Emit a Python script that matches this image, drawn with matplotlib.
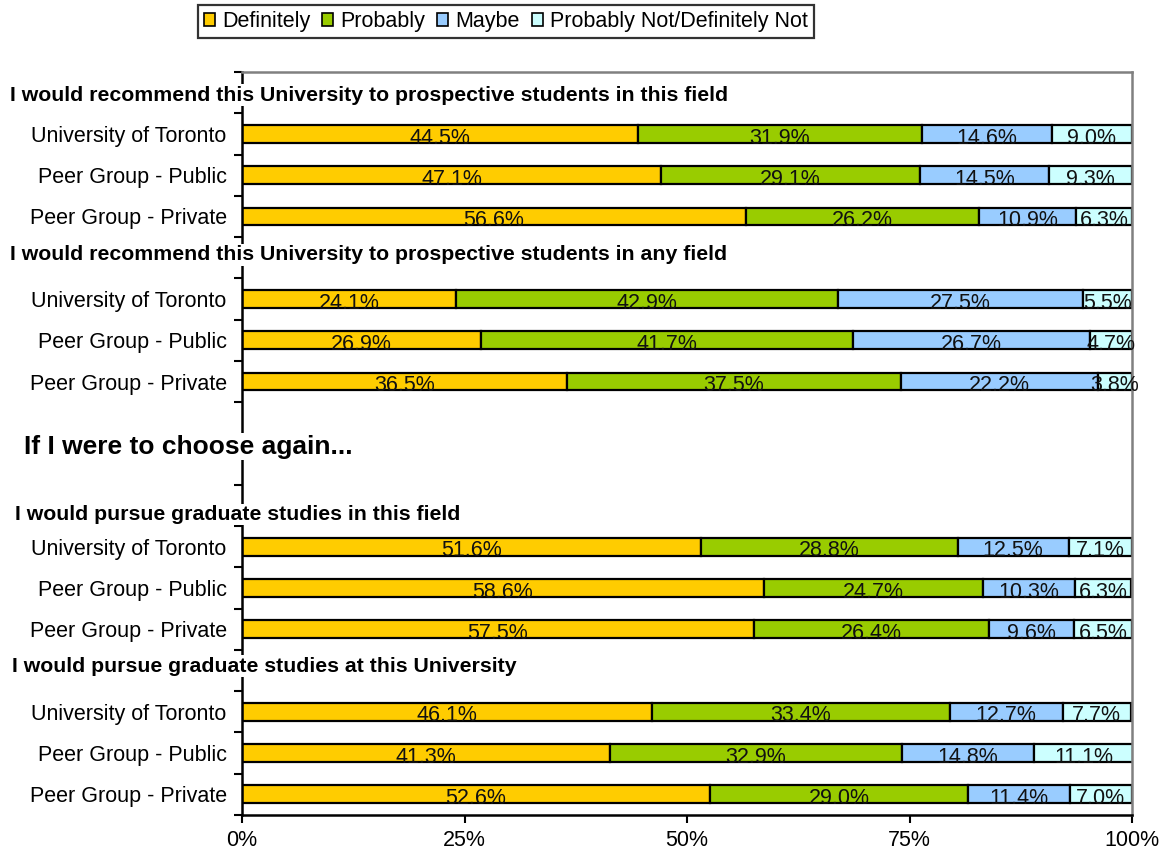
import matplotlib
matplotlib.use("Agg")
import matplotlib.pyplot as plt
from matplotlib.patches import Patch
from matplotlib.transforms import blended_transform_factory

plt.rcParams['font.family'] = ['Liberation Sans', 'DejaVu Sans']

series = ["Definitely", "Probably", "Maybe", "Probably Not/Definitely Not"]
colors = ["#FFCC00", "#99CC00", "#99CCFF", "#CCFFFF"]

groups = ["University of Toronto", "Peer Group - Public", "Peer Group - Private"]

sec1 = [[44.5, 31.9, 14.6, 9.0], [47.1, 29.1, 14.5, 9.3], [56.6, 26.2, 10.9, 6.3]]
sec2 = [[24.1, 42.9, 27.5, 5.5], [26.9, 41.7, 26.7, 4.7], [36.5, 37.5, 22.2, 3.8]]
sec3 = [[51.6, 28.8, 12.5, 7.1], [58.6, 24.7, 10.3, 6.3], [57.5, 26.4, 9.6, 6.5]]
sec4 = [[46.1, 33.4, 12.7, 7.7], [41.3, 32.9, 14.8, 11.1], [52.6, 29.0, 11.4, 7.0]]

headers = [
    "I would recommend this University to prospective students in this field",
    "I would recommend this University to prospective students in any field",
    "If I were to choose again...",
    "I would pursue graduate studies in this field",
    "I would pursue graduate studies at this University",
]
xticks = [0, 25, 50, 75, 100]
xticklabels = ["0%", "25%", "50%", "75%", "100%"]

# slot layout (18 category slots, headers/blank in between)
section_start_slots = [1, 5, 11, 15]
n_slots = 18

W, H = 1164, 856
FS = 15.5
fig = plt.figure(figsize=(W / 100, H / 100), dpi=100)
ax = fig.add_axes([242 / W, 1 - 815 / H, (1132 - 242) / W, (815 - 72) / H])

labels_at = {}
for sec, start in zip([sec1, sec2, sec3, sec4], section_start_slots):
    for i, (g, vals) in enumerate(zip(groups, sec)):
        y = start + i + 0.5
        labels_at[y] = g
        left = 0
        for v, c in zip(vals, colors):
            ax.barh(y, v, left=left, height=0.43, color=c, edgecolor="black",
                    linewidth=1.6, zorder=2)
            ax.text(left + v / 2, y + 0.1, f"{v:.1f}%", ha="center", va="center",
                    fontsize=FS, color="#111111", zorder=3)
            left += v

ax.set_xlim(0, 100)
ax.set_ylim(n_slots, 0)

ax.set_yticks(range(0, n_slots + 1))
ax.set_yticklabels([])
ax.tick_params(axis="y", which="major", length=6, width=1.5, direction="out")
ax.set_yticks(sorted(labels_at.keys()), minor=True)
ax.set_yticklabels([labels_at[k] for k in sorted(labels_at.keys())], minor=True, fontsize=FS)
ax.tick_params(axis="y", which="minor", length=0, pad=11)

ax.set_xticks(xticks)
ax.set_xticklabels(xticklabels, fontsize=FS)
ax.tick_params(axis="x", length=6, width=1.5, direction="out", pad=5)

for s in ["left", "bottom"]:
    ax.spines[s].set_color("black")
    ax.spines[s].set_linewidth(1.8)
for s in ["top", "right"]:
    ax.spines[s].set_color("#808080")
    ax.spines[s].set_linewidth(1.8)

# section header texts (white boxes over the axis line)
tr = blended_transform_factory(fig.transFigure, ax.transData)
header_x = [10, 10, 24, 15, 12]
header_y = [0.56, 4.43, 9.08, 10.72, 14.4]
header_size = [15.3, 15.3, 19, 15.3, 15.3]
for txt, hx, hy, hs in zip(headers, header_x, header_y, header_size):
    ax.text(hx / W, hy, txt, transform=tr, ha="left", va="center", fontsize=hs,
            fontweight="bold", color="black", zorder=5,
            bbox=dict(facecolor="white", edgecolor="none", pad=1))

handles = [Patch(facecolor=c, edgecolor="black", linewidth=1.2) for c in colors]
leg = fig.legend(handles, series, loc="upper center", bbox_to_anchor=(506 / W, 1 - 5 / H),
                 ncol=4, fontsize=FS, frameon=True, fancybox=False, edgecolor="black",
                 handlelength=0.5, handleheight=0.5, handletextpad=0.35,
                 columnspacing=0.55, borderpad=0.28, borderaxespad=0)
leg.get_frame().set_linewidth(1.6)

fig.savefig("out.png", dpi=100, facecolor="white")
